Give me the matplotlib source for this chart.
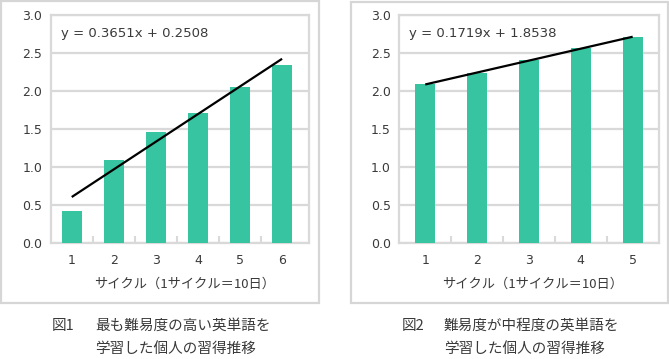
import numpy as np
import matplotlib
matplotlib.use("Agg")
import matplotlib.pyplot as plt
from matplotlib.patches import Rectangle

plt.rcParams['font.family'] = ['Noto Sans CJK JP', 'DejaVu Sans']
NUMFONT = ['DejaVu Sans', 'Noto Sans CJK JP']

# ---- data ----
cycles1 = ["1", "2", "3", "4", "5", "6"]
values1 = [0.43, 1.10, 1.46, 1.71, 2.06, 2.35]
eq1 = "y = 0.3651x + 0.2508"

cycles2 = ["1", "2", "3", "4", "5"]
values2 = [2.09, 2.24, 2.41, 2.57, 2.71]
eq2 = "y = 0.1719x + 1.8538"

yticks = [0.0, 0.5, 1.0, 1.5, 2.0, 2.5, 3.0]
xlabel = "サイクル（1サイクル＝10日）"
cap1_num, cap1_l1, cap1_l2 = "図1", "最も難易度の高い英単語を", "学習した個人の習得推移"
cap2_num, cap2_l1, cap2_l2 = "図2", "難易度が中程度の英単語を", "学習した個人の習得推移"

W, H = 669, 359
fig = plt.figure(figsize=(W / 100, H / 100), dpi=100)

def fx(px):
    return px / W

def fy(py):
    return 1 - py / H

BAR = "#36c5a0"
GRID = "#d9d9d9"
BOX = "#d6d6d6"
TXT = "#3a3a3a"

# outer panel boxes
for (x0, y0, x1, y1) in [(1, 1, 318.5, 303), (350.5, 1.5, 668, 303)]:
    fig.patches.append(Rectangle((fx(x0), fy(y1)), fx(x1) - fx(x0), fy(y0) - fy(y1),
                                 transform=fig.transFigure, fill=False,
                                 edgecolor=BOX, linewidth=1.6))

def panel(left_px, right_px, cats, vals, eq, xlim, barw, eq_pos, xl_center):
    top_px, bot_px = 15.3, 243.3
    ax = fig.add_axes([fx(left_px), fy(bot_px), fx(right_px) - fx(left_px),
                       fy(top_px) - fy(bot_px)])
    x = np.arange(len(cats))
    ax.bar(x, vals, width=barw, color=BAR, zorder=3)
    # trend line (linear fit)
    k, b = np.polyfit(x + 1, vals, 1)
    ax.plot([x[0], x[-1]], [k * 1 + b, k * len(cats) + b], color="black",
            linewidth=1.6, zorder=4, solid_capstyle='butt')
    ax.set_ylim(0, 3.0)
    ax.set_xlim(*xlim)
    ax.set_yticks(yticks)
    ax.set_yticklabels([f"{v:.1f}" for v in yticks], family=NUMFONT)
    ax.set_xticks(x)
    ax.set_xticklabels(cats, family=NUMFONT)
    ax.set_xticks(x[:-1] + 0.5, minor=True)
    ax.yaxis.grid(True, color=GRID, linewidth=1.6, zorder=0)
    ax.set_axisbelow(True)
    for s in ax.spines.values():
        s.set_color(GRID)
        s.set_linewidth(1.6)
    ax.tick_params(axis='y', length=0, pad=6.2, labelsize=9, labelcolor=TXT)
    ax.tick_params(axis='x', which='major', length=0, pad=8, labelsize=9,
                   labelcolor=TXT)
    ax.tick_params(axis='x', which='minor', direction='in', length=5,
                   width=1.5, color=GRID)
    fig.text(fx(eq_pos[0]), fy(eq_pos[1]), eq, ha='left', va='center',
             fontsize=9.5, color=TXT, family=NUMFONT)
    fig.text(fx(xl_center), fy(284), xlabel, ha='center', va='center',
             fontsize=9.5, color=TXT)
    return ax

panel(50.7, 309, cycles1, values1, eq1, (-0.5, 5.64), 0.476, (60.7, 33), 185)
panel(399.3, 658.6, cycles2, values2, eq2, (-0.5, 4.5), 0.387, (409.3, 33), 533)

# captions
for (nx, tx, num, l1, l2) in [(52, 95, cap1_num, cap1_l1, cap1_l2),
                              (402, 444, cap2_num, cap2_l1, cap2_l2)]:
    fig.text(fx(nx), fy(326), num, ha='left', va='center', fontsize=10.5, color=TXT)
    fig.text(fx(tx), fy(326), l1, ha='left', va='center', fontsize=10.5, color=TXT)
    fig.text(fx(tx), fy(349), l2, ha='left', va='center', fontsize=10.5, color=TXT)

fig.savefig("out.png", dpi=100, facecolor="white")
